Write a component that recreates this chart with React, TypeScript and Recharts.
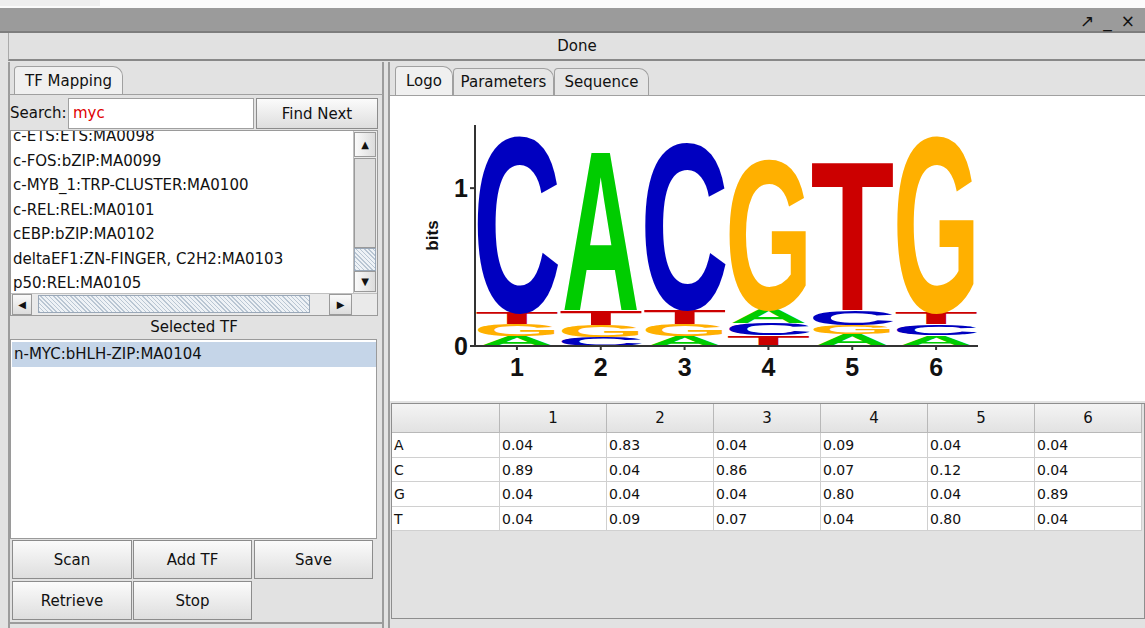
import React from 'react'
import { Bar, BarChart, XAxis, YAxis } from 'recharts'

const positions = ['1', '2', '3', '4', '5', '6']
const bases = ['A', 'C', 'G', 'T']

// probability matrix shown in the table
const probA = [0.04, 0.83, 0.04, 0.09, 0.04, 0.04]
const probC = [0.89, 0.04, 0.86, 0.07, 0.12, 0.04]
const probG = [0.04, 0.04, 0.04, 0.8, 0.04, 0.89]
const probT = [0.04, 0.09, 0.07, 0.04, 0.8, 0.04]

// letter heights (bits) as drawn in the logo
const bitsA = [0.063, 1.04, 0.063, 0.09, 0.075, 0.07]
const bitsC = [1.14, 0.06, 1.08, 0.075, 0.09, 0.07]
const bitsG = [0.075, 0.075, 0.075, 0.97, 0.06, 1.14]
const bitsT = [0.075, 0.09, 0.095, 0.07, 0.97, 0.075]

// bottom-to-top order of the letters in each column
const stackOrder = ['AGTC', 'CGTA', 'AGTC', 'TCAG', 'AGCT', 'ACTG']

const yTicks = [0, 1]

const motifList = [
	'c-ETS:ETS:MA0098',
	'c-FOS:bZIP:MA0099',
	'c-MYB_1:TRP-CLUSTER:MA0100',
	'c-REL:REL:MA0101',
	'cEBP:bZIP:MA0102',
	'deltaEF1:ZN-FINGER, C2H2:MA0103',
	'p50:REL:MA0105',
]
const selectedTF = ['n-MYC:bHLH-ZIP:MA0104']

const letterColours = { A: '#00cc00', C: '#0000c0', G: '#ffb000', T: '#cc0000' }
// left bearing and ink share of the advance width, Arial Bold
const glyphInk = { A: [0, 1], C: [0.06, 0.88], G: [0.05, 0.89], T: [0.035, 0.93] }
const probByBase = { A: probA, C: probC, G: probG, T: probT }
const bitsByBase = { A: bitsA, C: bitsC, G: bitsG, T: bitsT }

const logoData = positions.map((pos, i) => {
	const row: any = { pos }
	stackOrder[i].split('').forEach((b, k) => {
		row['b' + k] = b
		row['h' + k] = bitsByBase[b][i]
	})
	return row
})

const LOGO_FONT = '"Liberation Sans", Arial, sans-serif'
const UI_FONT = '"DejaVu Sans", Tahoma, sans-serif'

const renderLetter = (props: any, rank: number) => {
	const { x, y, width, height, payload } = props
	if (!height || height <= 0) return <g />
	const letter = payload['b' + rank]
	const [lsb, ink] = glyphInk[letter]
	const len = width / ink
	const size = 100
	const sy = height / (0.716 * size)
	return (
		<text
			transform={`translate(${x - lsb * len},${y + height}) scale(1,${sy})`}
			x={0}
			y={0}
			fontSize={size}
			fontFamily={LOGO_FONT}
			fontWeight='bold'
			fill={letterColours[letter]}
			textLength={len}
			lengthAdjust='spacingAndGlyphs'
		>
			{letter}
		</text>
	)
}

const tickStyle = { fontSize: 25, fill: '#111', fontFamily: LOGO_FONT, fontWeight: 'bold' }

const SequenceLogo = () => {
	return (
		<BarChart
			width={600}
			height={290}
			data={logoData}
			margin={{ top: 25, right: 22, left: 0, bottom: 0 }}
			barCategoryGap={3}
		>
			<XAxis
				dataKey='pos'
				height={44}
				stroke='#333'
				strokeWidth={2}
				tickSize={4}
				tickMargin={8}
				tick={tickStyle}
			/>
			<YAxis
				width={75}
				domain={[0, 1.4]}
				ticks={yTicks}
				stroke='#333'
				strokeWidth={2}
				tickSize={5}
				tickMargin={2}
				tick={tickStyle}
				label={{
					value: 'bits',
					angle: -90,
					position: 'insideLeft',
					offset: 32,
					style: { textAnchor: 'middle', fontWeight: 'bold', fontSize: 17, fill: '#111', fontFamily: LOGO_FONT },
				}}
			/>
			{[0, 1, 2, 3].map((k) => (
				<Bar
					key={k}
					dataKey={'h' + k}
					stackId='logo'
					isAnimationActive={false}
					shape={(p) => renderLetter(p, k)}
				/>
			))}
		</BarChart>
	)
}

const abs = (left: number, top: number, width: number, height: number, extra: any = {}) => ({
	position: 'absolute' as const,
	left,
	top,
	width,
	height,
	boxSizing: 'border-box' as const,
	...extra,
})

const Button = ({ label, x, y, w, h }) => (
	<div
		style={abs(x, y, w, h, {
			border: '1px solid #8c8c8c',
			background: 'linear-gradient(#fbfbfb, #dedede)',
			display: 'flex',
			alignItems: 'center',
			justifyContent: 'center',
			fontSize: 15,
		})}
	>
		{label}
	</div>
)

const Tab = ({ label, x, w, selected = false }) => (
	<div
		style={abs(x, selected ? 66 : 68, w, selected ? 29 : 27, {
			border: '1px solid #a0a0a0',
			borderBottom: 'none',
			borderRadius: '4px 10px 0 0',
			background: selected ? '#f0f0f0' : '#e6e6e6',
			display: 'flex',
			alignItems: 'center',
			justifyContent: 'center',
			fontSize: 15,
		})}
	>
		{label}
	</div>
)

const stipple = 'repeating-linear-gradient(45deg, #b9c6d3 0 1px, #eef2f6 1px 3px)'

export default function App() {
	const colLeft = [392, 500, 607, 714, 821, 928, 1035, 1142]
	const rowTop = 433
	const rowH = 24.5
	return (
		<div
			style={{
				position: 'absolute',
				left: 0,
				top: 0,
				width: 1145,
				height: 628,
				overflow: 'hidden',
				background: '#e2e2e2',
				fontFamily: UI_FONT,
				fontSize: 15,
				color: '#111',
			}}
		>
			{/* window chrome */}
			<div style={abs(0, 0, 1145, 8, { background: '#fbfbfb' })} />
			<div style={abs(0, 0, 100, 6, { background: '#efefef' })} />
			<div style={abs(0, 8, 1145, 25, { background: '#9b9b9b', borderBottom: '2px solid #7d7d7d' })} />
			<div style={abs(1080, 8, 65, 25, { display: 'flex', alignItems: 'center', gap: 9, fontSize: 17 })}>
				<span>↗</span>
				<span>_</span>
				<span>×</span>
			</div>
			<div
				style={abs(8, 33, 1137, 28, {
					background: '#e1e1e1',
					borderBottom: '2px solid #888',
					borderLeft: '1px solid #aaa',
					display: 'flex',
					alignItems: 'center',
					justifyContent: 'center',
				})}
			>
				Done
			</div>

			{/* left panel */}
			<div style={abs(8, 62, 376, 566, { borderLeft: '2px solid #9c9c9c', borderRight: '2px solid #9c9c9c' })} />
			<Tab label='TF Mapping' x={14} w={109} selected />
			<div style={abs(9, 94, 374, 530, { borderTop: '1px solid #a0a0a0', borderBottom: '2px solid #9c9c9c' })} />
			<div style={abs(10, 104, 60, 20, {})}>Search:</div>
			<div style={abs(68, 98, 186, 31, { background: '#fff', border: '1px solid #a0a0a0', color: '#e00000', padding: '5px 4px' })}>
				myc
			</div>
			<Button label='Find Next' x={256} y={98} w={122} h={31} />

			<div style={abs(10, 130, 368, 186, { background: '#fff', border: '1px solid #9a9a9a', overflow: 'hidden' })}>
				{motifList.map((m, i) => (
					<div key={m} style={abs(2, -7 + i * 24.5, 340, 24.5, { lineHeight: '24.5px', whiteSpace: 'nowrap' })}>
						{m}
					</div>
				))}
				{/* vertical scrollbar */}
				<div style={abs(342, 0, 24, 162, { background: '#eaeaea', borderLeft: '1px solid #c0c0c0' })} />
				<div style={abs(343, 1, 22, 25, { background: 'linear-gradient(90deg,#fafafa,#dcdcdc)', border: '1px solid #9a9a9a', fontSize: 10, textAlign: 'center', lineHeight: '23px' })}>▲</div>
				<div style={abs(343, 27, 22, 90, { background: '#dedede', border: '1px solid #9a9a9a' })} />
				<div style={abs(343, 117, 22, 23, { background: stipple, border: '1px solid #9aa8b8' })} />
				<div style={abs(343, 140, 22, 21, { background: 'linear-gradient(90deg,#fafafa,#dcdcdc)', border: '1px solid #9a9a9a', fontSize: 10, textAlign: 'center', lineHeight: '19px' })}>▼</div>
				{/* horizontal scrollbar */}
				<div style={abs(0, 162, 366, 22, { background: '#eaeaea', borderTop: '1px solid #c0c0c0' })} />
				<div style={abs(1, 163, 20, 21, { background: 'linear-gradient(#fafafa,#dcdcdc)', border: '1px solid #9a9a9a', fontSize: 10, textAlign: 'center', lineHeight: '19px' })}>◀</div>
				<div style={abs(27, 164, 272, 18, { background: stipple, border: '1px solid #9aa8b8' })} />
				<div style={abs(318, 163, 23, 21, { background: 'linear-gradient(#fafafa,#dcdcdc)', border: '1px solid #9a9a9a', fontSize: 10, textAlign: 'center', lineHeight: '19px' })}>▶</div>
			</div>

			<div style={abs(10, 318, 368, 20, { textAlign: 'center' })}>Selected TF</div>
			<div style={abs(10, 339, 367, 200, { background: '#fff', border: '1px solid #9a9a9a' })}>
				{selectedTF.map((s) => (
					<div key={s} style={abs(1, 2, 364, 25, { background: '#c5d5e8', paddingLeft: 2, lineHeight: '25px' })}>
						{s}
					</div>
				))}
			</div>
			<Button label='Scan' x={12} y={540} w={120} h={39} />
			<Button label='Add TF' x={133} y={540} w={119} h={39} />
			<Button label='Save' x={254} y={540} w={119} h={39} />
			<Button label='Retrieve' x={12} y={581} w={120} h={39} />
			<Button label='Stop' x={133} y={581} w={119} h={39} />

			{/* right panel */}
			<div style={abs(388, 62, 757, 566, { borderLeft: '2px solid #9c9c9c' })} />
			<Tab label='Logo' x={395} w={58} selected />
			<Tab label='Parameters' x={453} w={101} />
			<Tab label='Sequence' x={554} w={95} />
			<div style={abs(390, 95, 755, 306, { background: '#fff', borderTop: '1px solid #a0a0a0' })} />
			<div style={abs(400, 100, 600, 290, {})}>
				<SequenceLogo />
			</div>

			{/* probability table */}
			<div style={abs(391, 403, 754, 216, { border: '1px solid #8e8e8e', background: '#e2e2e2' })} />
			{colLeft.slice(0, -1).map((x, c) => (
				<div
					key={'h' + c}
					style={abs(x, 404, colLeft[c + 1] - x, 29, {
						background: 'linear-gradient(#f4f4f4,#e2e2e2)',
						borderRight: '1px solid #b8b8b8',
						borderBottom: '1px solid #b8b8b8',
						textAlign: 'center',
						lineHeight: '28px',
					})}
				>
					{c === 0 ? '' : positions[c - 1]}
				</div>
			))}
			{bases.map((b, r) =>
				colLeft.slice(0, -1).map((x, c) => (
					<div
						key={b + c}
						style={abs(x, rowTop + r * rowH, colLeft[c + 1] - x, rowH, {
							background: '#fff',
							borderRight: '1px solid #d0d0d0',
							borderBottom: '1px solid #d0d0d0',
							paddingLeft: 2,
							lineHeight: rowH + 'px',
							fontSize: 14,
						})}
					>
						{c === 0 ? b : probByBase[b][c - 1].toFixed(2)}
					</div>
				))
			)}
		</div>
	)
}
